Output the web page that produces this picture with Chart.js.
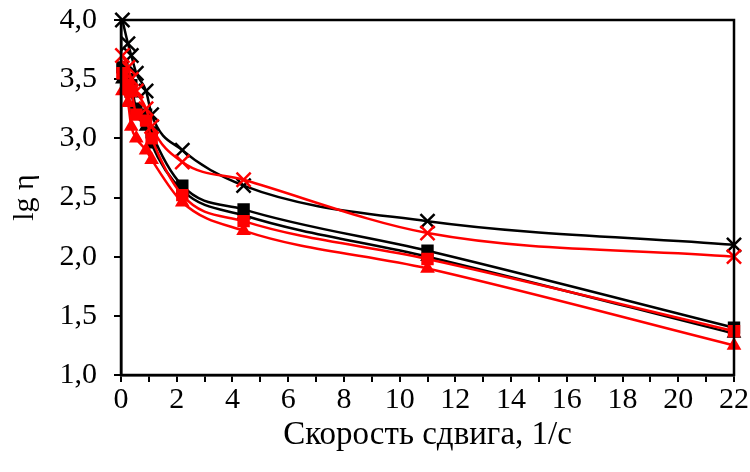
<!DOCTYPE html>
<html>
<head>
<meta charset="utf-8">
<script src="https://cdn.jsdelivr.net/npm/chart.js"></script>
<style>
  body { margin: 0; background: #fff; }
  #wrap { width: 750px; height: 472px; }
</style>
</head>
<body>
<div id="wrap"><canvas id="chart"></canvas></div>
<script>
    // данные
    var shearRate = [0.05, 0.25, 0.37, 0.55, 0.9, 1.1, 2.2, 4.4, 11, 22];
    var blackCross = [4.0, 3.8, 3.7, 3.55, 3.4, 3.2, 2.9, 2.6, 2.3, 2.1];
    var redCross = [3.7, 3.6, 3.5, 3.4, 3.25, 3.1, 2.8, 2.65, 2.2, 2.0];
    var blackSquare = [3.6, 3.5, 3.45, 3.25, 3.2, 3.05, 2.6, 2.4, 2.05, 1.4];
    var redSquare = [3.55, 3.45, 3.4, 3.2, 3.15, 3.0, 2.52, 2.3, 1.98, 1.37];
    var blackTriangle = [3.5, 3.45, 3.38, 3.2, 3.1, 2.95, 2.56, 2.35, 2.0, 1.35];
    var redTriangle = [3.4, 3.3, 3.1, 3.0, 2.9, 2.82, 2.46, 2.22, 1.9, 1.25];
    var yTicks = [1.0, 1.5, 2.0, 2.5, 3.0, 3.5, 4.0];

    function pts(arr) {
        return arr.map(function (v, i) { return { x: shearRate[i], y: v }; });
    }

    function series(values, color, style, radius) {
        return {
            data: pts(values),
            borderColor: color,
            backgroundColor: color,
            borderWidth: 2.5,
            pointStyle: style,
            pointRadius: radius,
            pointBorderWidth: 2.5,
            cubicInterpolationMode: 'monotone',
            clip: false
        };
    }

    // рамка вокруг области графика
    var frame = {
        id: 'frame',
        afterDraw: function (chart) {
            var a = chart.chartArea, c = chart.ctx;
            c.save();
            c.strokeStyle = '#000';
            c.lineWidth = 2.5;
            c.strokeRect(a.left, a.top, a.right - a.left, a.bottom - a.top);
            c.restore();
        }
    };

    var family = '"Liberation Serif", "Times New Roman", serif';
    var tickFont = { family: family, size: 30 };
    var titleFont = { family: family, size: 33 };

    var ctx = document.getElementById('chart').getContext('2d');
    var myChart = new Chart(ctx, {
        type: 'line',
        data: {
            datasets: [
                series(redTriangle, '#ff0000', 'triangle', 6),
                series(redSquare, '#ff0000', 'rect', 7),
                series(redCross, '#ff0000', 'crossRot', 10),
                series(blackTriangle, '#000000', 'triangle', 6),
                series(blackSquare, '#000000', 'rect', 7),
                series(blackCross, '#000000', 'crossRot', 10)
            ]
        },
        options: {
            responsive: true,
            maintainAspectRatio: false,
            animation: false,
            layout: { padding: { top: 20, right: 16, left: 0, bottom: 0 } },
            plugins: { legend: { display: false }, tooltip: { enabled: false } },
            scales: {
                x: {
                    type: 'linear',
                    min: 0,
                    max: 22,
                    afterFit: function (s) {
                        s.height = 97;
                        s.paddingLeft = 0;
                        s.paddingRight = 0;
                    },
                    grid: { drawOnChartArea: false, drawTicks: true, tickLength: 7, color: '#000', lineWidth: 2 },
                    border: { color: '#000', width: 2.5 },
                    ticks: {
                        stepSize: 1,
                        autoSkip: false,
                        maxRotation: 0,
                        color: '#000',
                        font: tickFont,
                        padding: 0,
                        callback: function (v) { return v % 2 === 0 ? String(v) : ''; }
                    },
                    title: { display: true, text: 'Скорость сдвига, 1/с', color: '#000', font: titleFont, padding: { top: 0, bottom: 17 } }
                },
                y: {
                    min: 1,
                    max: 4,
                    afterFit: function (s) {
                        s.width = 121;
                        s.paddingTop = 0;
                        s.paddingBottom = 0;
                    },
                    afterBuildTicks: function (s) { s.ticks = yTicks.map(function (v) { return { value: v }; }); },
                    grid: { drawOnChartArea: false, drawTicks: true, tickLength: 7, color: '#000', lineWidth: 2 },
                    border: { color: '#000', width: 2.5 },
                    ticks: {
                        color: '#000',
                        font: tickFont,
                        padding: 17,
                        callback: function (v) { return v.toFixed(1).replace('.', ','); }
                    },
                    title: { display: true, text: 'lg η', color: '#000', font: tickFont, padding: { top: 7, bottom: 0 } }
                }
            }
        },
        plugins: [frame]
    });
</script>
</body>
</html>
